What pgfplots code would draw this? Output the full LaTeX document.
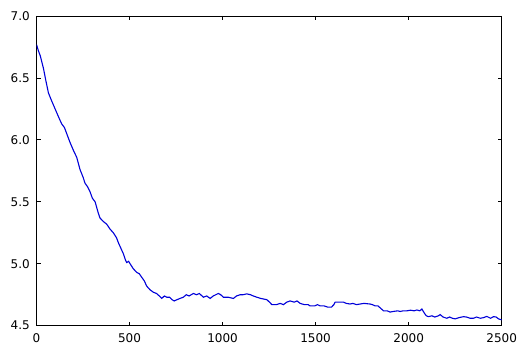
\documentclass[border=0pt]{standalone}
\usepackage{pgfplots}
\pgfplotsset{compat=1.18}
\usepackage{fontspec}
\setmainfont{DejaVu Sans}
\begin{document}
\begin{tikzpicture}[font=\fontsize{12bp}{14bp}\selectfont]
\path (0,0) rectangle (527bp,356bp);
\begin{axis}[
  at={(36.5bp,30.3bp)}, anchor=south west,
  scale only axis, width=465.2bp, height=309.7bp,
  xmin=0, xmax=2500, ymin=4.5, ymax=7.0,
  xtick={0,500,1000,1500,2000,2500},
  ytick={4.5,5.0,5.5,6.0,6.5,7.0},
  tick align=inside, major tick length=4bp,
  tick style={black, line width=0.8bp},
  axis line style={black, line width=0.9bp},
  /pgf/number format/assume math mode=true,
  every tick label/.append style={font=\fontsize{12bp}{14bp}\selectfont},
  xticklabel style={/pgf/number format/1000 sep={}, inner sep=0pt, anchor=north, yshift=-7.5bp},
  yticklabel style={/pgf/number format/fixed, /pgf/number format/precision=1, /pgf/number format/fixed zerofill, inner sep=0pt, anchor=east, xshift=-6.5bp},
  scaled y ticks=false,
]
\addplot[color={rgb,1:red,0;green,0;blue,0.85}, line width=1.1bp, no marks] coordinates {
(0,6.77) (10,6.72) (20,6.68) (37,6.58) (50,6.48) (64,6.38) (80,6.32) (100,6.25)
(120,6.18) (135,6.13) (150,6.10) (165,6.04) (180,5.98) (200,5.91) (216,5.86)
(234,5.76) (250,5.70) (261,5.65) (275,5.62) (288,5.58) (300,5.53) (315,5.50)
(330,5.42) (341,5.37) (360,5.34) (377,5.32) (395,5.28) (413,5.25) (430,5.21)
(440,5.17) (455,5.12) (467,5.08) (478,5.03) (485,5.01) (495,5.02) (503,5.00)
(520,4.96) (539,4.93) (552,4.92) (566,4.89) (580,4.86) (592,4.82) (610,4.79)
(628,4.77) (645,4.76) (660,4.74) (673,4.72) (687,4.74) (700,4.73) (715,4.73)
(728,4.71) (740,4.70) (755,4.71) (771,4.72) (789,4.73) (805,4.75) (820,4.74)
(843,4.76) (860,4.75) (875,4.76) (897,4.73) (915,4.74) (933,4.72) (950,4.74)
(977,4.76) (990,4.75) (1004,4.73) (1030,4.73) (1058,4.72) (1075,4.74) (1094,4.75)
(1110,4.75) (1130,4.757) (1150,4.75) (1165,4.74) (1184,4.73) (1205,4.72) (1238,4.71)
(1252,4.69) (1265,4.67) (1290,4.67) (1310,4.68) (1327,4.67) (1345,4.69) (1363,4.70)
(1385,4.69) (1400,4.70) (1417,4.68) (1440,4.67) (1460,4.67) (1470,4.66) (1495,4.66)
(1510,4.67) (1524,4.66) (1545,4.66) (1565,4.65) (1585,4.65) (1598,4.67) (1605,4.69)
(1630,4.69) (1650,4.69) (1665,4.68) (1685,4.675) (1700,4.68) (1720,4.67) (1739,4.675)
(1760,4.68) (1793,4.675) (1805,4.67) (1820,4.66) (1835,4.66) (1850,4.64) (1865,4.62)
(1885,4.62) (1900,4.61) (1918,4.615) (1940,4.62) (1955,4.615) (1970,4.62) (1990,4.62)
(2010,4.625) (2030,4.62) (2044,4.627) (2060,4.62) (2071,4.635) (2085,4.60) (2095,4.58)
(2106,4.573) (2125,4.58) (2140,4.57) (2160,4.58) (2169,4.59) (2185,4.57) (2205,4.56)
(2220,4.57) (2235,4.56) (2250,4.555) (2270,4.565) (2295,4.573) (2310,4.57) (2330,4.56)
(2348,4.56) (2365,4.57) (2385,4.56) (2402,4.565) (2420,4.575) (2440,4.56) (2456,4.573)
(2470,4.57) (2483,4.555) (2500,4.547)
};
\end{axis}
\end{tikzpicture}
\end{document}
